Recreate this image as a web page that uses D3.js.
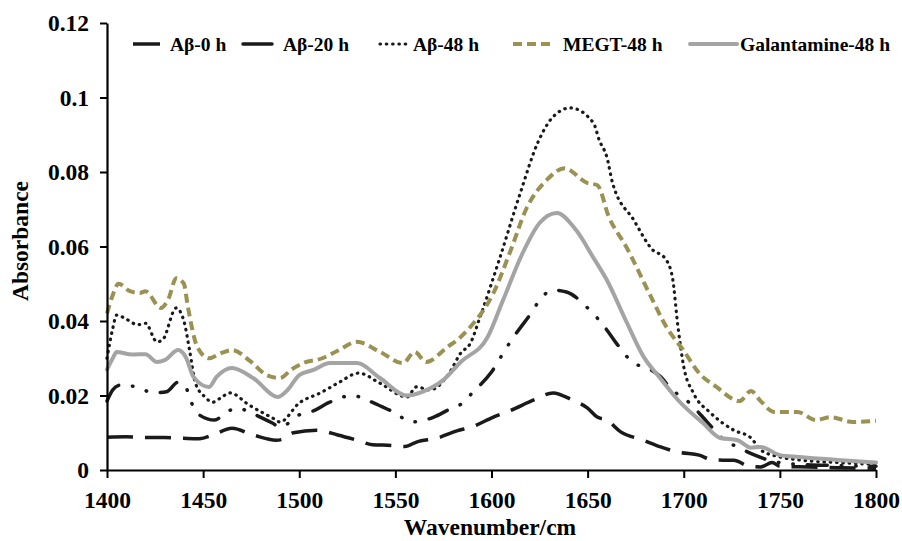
<!DOCTYPE html>
<html>
<head>
<meta charset="utf-8">
<script src="https://cdn.jsdelivr.net/npm/d3@7"></script>
<style>
	body { margin: 0; background: #fff; }
	svg text { font-family: "Liberation Serif", "Times New Roman", serif; font-weight: bold; fill: #000; }
</style>
</head>
<body>
<div id="chart"></div>
<script>

// tick values of the axes
var xTicks = [1400, 1450, 1500, 1550, 1600, 1650, 1700, 1750, 1800];
var yTicks = [0, 0.02, 0.04, 0.06, 0.08, 0.1, 0.12];
var yTickLabels = ['0', '0.02', '0.04', '0.06', '0.08', '0.1', '0.12'];

// series names
var seriesNames = ['A\u03b2-0 h', 'A\u03b2-20 h', 'A\u03b2-48 h', 'MEGT-48 h', 'Galantamine-48 h'];

// spectra: [wavenumber, absorbance]
var abeta0 = [[1400,0.0088],[1410,0.0089],[1420,0.0087],[1430,0.0087],[1440,0.0085],[1448,0.0084],
	[1455,0.0094],[1465,0.0112],[1476,0.0094],[1488,0.0080],[1491,0.0082],[1497,0.0100],[1509,0.0107],
	[1520,0.0094],[1530,0.0080],[1538,0.0068],[1548,0.0066],[1555,0.0063],[1561,0.0075],[1572,0.0086],
	[1582,0.0105],[1590,0.0116],[1601,0.0142],[1610,0.0160],[1622,0.0188],[1632,0.0207],[1642,0.0188],
	[1650,0.0166],[1655,0.0142],[1660,0.0134],[1667,0.0103],[1679,0.0080],[1688,0.0062],[1698,0.0047],
	[1708,0.0040],[1715,0.0027],[1726,0.0026],[1734,0.0010],[1740,0.0008],[1746,0.0020],[1750,0.0010],
	[1765,0.0008],[1780,0.0006],[1800,0.0005]];

var abeta20 = [[1400,0.0185],[1403,0.0215],[1407,0.0228],[1416,0.0222],[1424,0.0207],[1431,0.0210],
	[1437,0.0236],[1441,0.0222],[1444,0.0180],[1448,0.0148],[1456,0.0134],[1462,0.0155],[1468,0.0166],
	[1475,0.0153],[1486,0.0126],[1490,0.0115],[1500,0.0148],[1508,0.0160],[1515,0.0180],[1528,0.0200],
	[1535,0.0188],[1543,0.0170],[1550,0.0153],[1558,0.0129],[1570,0.0142],[1577,0.0160],[1585,0.0180],
	[1590,0.0207],[1600,0.0263],[1608,0.0330],[1613,0.0368],[1621,0.0424],[1625,0.0456],[1632,0.0483],
	[1639,0.0478],[1650,0.0435],[1655,0.0408],[1660,0.0376],[1665,0.0340],[1674,0.0287],[1681,0.0274],
	[1688,0.0250],[1693,0.0220],[1703,0.0180],[1712,0.0130],[1720,0.0085],[1729,0.0059],[1737,0.0040],
	[1745,0.0025],[1760,0.0015],[1780,0.0012],[1800,0.0010]];

var abeta48 = [[1400,0.0300],[1403,0.0380],[1405,0.0416],[1410,0.0405],[1416,0.0390],[1420,0.0394],
	[1426,0.0344],[1429,0.0350],[1436,0.0435],[1440,0.0400],[1443,0.0320],[1446,0.0233],[1451,0.0196],
	[1455,0.0182],[1459,0.0193],[1464,0.0207],[1474,0.0174],[1486,0.0140],[1490,0.0129],[1500,0.0180],
	[1511,0.0207],[1520,0.0233],[1531,0.0260],[1542,0.0233],[1556,0.0196],[1561,0.0223],[1568,0.0215],
	[1578,0.0260],[1584,0.0314],[1589,0.0340],[1594,0.0410],[1604,0.0564],[1615,0.0744],[1624,0.0878],
	[1632,0.0948],[1641,0.0972],[1653,0.0932],[1656,0.0886],[1660,0.0840],[1663,0.0770],[1674,0.0671],
	[1684,0.0590],[1690,0.0570],[1694,0.0520],[1697,0.0384],[1700,0.0277],[1705,0.0207],[1714,0.0153],
	[1726,0.0107],[1735,0.0086],[1740,0.0054],[1750,0.0035],[1760,0.0027],[1780,0.0020],[1800,0.0015]];

var megt48 = [[1400,0.0420],[1403,0.0470],[1406,0.0500],[1412,0.0480],[1417,0.0475],[1420,0.0480],
	[1428,0.0435],[1432,0.0460],[1436,0.0515],[1440,0.0500],[1442,0.0440],[1447,0.0330],[1453,0.0300],
	[1460,0.0315],[1465,0.0322],[1475,0.0290],[1483,0.0255],[1490,0.0247],[1496,0.0270],[1502,0.0287],
	[1512,0.0300],[1520,0.0320],[1530,0.0344],[1542,0.0317],[1554,0.0287],[1560,0.0317],[1566,0.0290],
	[1577,0.0330],[1584,0.0357],[1589,0.0384],[1601,0.0475],[1610,0.0590],[1618,0.0700],[1629,0.0780],
	[1638,0.0810],[1650,0.0770],[1655,0.0765],[1661,0.0680],[1670,0.0600],[1682,0.0475],[1691,0.0384],
	[1700,0.0320],[1708,0.0260],[1717,0.0223],[1729,0.0185],[1735,0.0212],[1740,0.0185],[1747,0.0156],
	[1759,0.0156],[1769,0.0134],[1776,0.0142],[1788,0.0129],[1800,0.0132]];

var galantamine48 = [[1400,0.0270],[1403,0.0300],[1405,0.0317],[1413,0.0310],[1420,0.0311],[1426,0.0290],
	[1430,0.0295],[1437,0.0322],[1441,0.0303],[1445,0.0250],[1453,0.0223],[1457,0.0250],[1465,0.0274],
	[1476,0.0247],[1489,0.0196],[1494,0.0215],[1500,0.0255],[1507,0.0268],[1516,0.0287],[1530,0.0287],
	[1542,0.0247],[1556,0.0200],[1564,0.0210],[1575,0.0242],[1584,0.0290],[1598,0.0357],[1606,0.0456],
	[1616,0.0580],[1625,0.0663],[1634,0.0690],[1644,0.0644],[1653,0.0570],[1660,0.0510],[1670,0.0400],
	[1679,0.0305],[1688,0.0245],[1697,0.0188],[1710,0.0126],[1719,0.0086],[1728,0.0080],[1735,0.0060],
	[1740,0.0062],[1750,0.0040],[1760,0.0035],[1780,0.0027],[1800,0.0020]];

var allSeries = [abeta0, abeta20, abeta48, megt48, galantamine48];

// line styles per series
var styles = [
	{ color: '#1a1a1a', width: 3.5, dash: '26,12', cap: 'butt' },
	{ color: '#1a1a1a', width: 3.5, dash: '20,14,0.5,14,0.5,14', cap: 'round' },
	{ color: '#1a1a1a', width: 3.2, dash: '0.5,5.8', cap: 'round' },
	{ color: '#9a9152', width: 4, dash: '9,5', cap: 'butt' },
	{ color: '#a4a4a4', width: 4, dash: null, cap: 'round' }
];

var width = 902, height = 541;
var plotLeft = 107, plotRight = 876, plotTop = 23, plotBottom = 470;

var svg = d3.select('#chart')
	.append('svg')
	.attr('width', width)
	.attr('height', height);

var x = d3.scaleLinear().domain([1400, 1800]).range([plotLeft, plotRight]);
var y = d3.scaleLinear().domain([0, 0.12]).range([plotBottom, plotTop]);

var line = d3.line()
	.x(function(d) { return x(d[0]); })
	.y(function(d) { return y(d[1]); })
	.curve(d3.curveMonotoneX);

// curves
svg.append('g')
	.selectAll('path')
	.data(allSeries)
	.enter()
	.append('path')
	.attr('d', line)
	.attr('fill', 'none')
	.attr('stroke', function(d, i) { return styles[i].color; })
	.attr('stroke-width', function(d, i) { return styles[i].width; })
	.attr('stroke-dasharray', function(d, i) { return styles[i].dash; })
	.attr('stroke-linecap', function(d, i) { return styles[i].cap; })
	.attr('stroke-linejoin', 'round');

// axes
var xAxis = svg.append('g')
	.attr('transform', 'translate(0,' + plotBottom + ')')
	.call(d3.axisBottom(x).tickValues(xTicks).tickFormat(d3.format('d'))
		.tickSizeInner(8).tickSizeOuter(0).tickPadding(13));

var yAxis = svg.append('g')
	.attr('transform', 'translate(' + plotLeft + ',0)')
	.call(d3.axisLeft(y).tickValues(yTicks)
		.tickFormat(function(d, i) { return yTickLabels[i]; })
		.tickSizeInner(7).tickSizeOuter(0).tickPadding(11));

[xAxis, yAxis].forEach(function(g) {
	g.select('.domain').attr('stroke', '#000').attr('stroke-width', 2.2);
	g.selectAll('.tick line').attr('stroke', '#000').attr('stroke-width', 2);
	g.selectAll('.tick text')
		.attr('font-family', '"Liberation Serif", "Times New Roman", serif')
		.attr('font-weight', 'bold')
		.attr('font-size', 23.5)
		.attr('fill', '#000');
});

// axis titles
svg.append('text')
	.attr('x', 490)
	.attr('y', 535)
	.attr('text-anchor', 'middle')
	.attr('font-size', 23.5)
	.text('Wavenumber/cm');

svg.append('text')
	.attr('transform', 'translate(28,241) rotate(-90)')
	.attr('text-anchor', 'middle')
	.attr('font-size', 23.5)
	.text('Absorbance');

// legend
var legendItems = [
	{ x1: 133, x2: 160, tx: 170 },
	{ x1: 243, x2: 272, tx: 283 },
	{ x1: 380, x2: 408, tx: 413 },
	{ x1: 513, x2: 550, tx: 563 },
	{ x1: 690, x2: 737, tx: 740 }
];
var legendY = 44;

var legend = svg.append('g')
	.selectAll('g')
	.data(legendItems)
	.enter()
	.append('g');

legend.append('line')
	.attr('x1', function(d) { return d.x1; })
	.attr('x2', function(d) { return d.x2; })
	.attr('y1', legendY)
	.attr('y2', legendY)
	.attr('stroke', function(d, i) { return styles[i].color; })
	.attr('stroke-width', function(d, i) { return styles[i].width; })
	.attr('stroke-dasharray', function(d, i) { return i === 0 || i === 1 ? null : styles[i].dash; })
	.attr('stroke-linecap', function(d, i) { return styles[i].cap; });

legend.append('text')
	.attr('x', function(d) { return d.tx; })
	.attr('y', legendY + 7)
	.attr('font-size', 19.5)
	.text(function(d, i) { return seriesNames[i]; });

</script>
</body>
</html>
